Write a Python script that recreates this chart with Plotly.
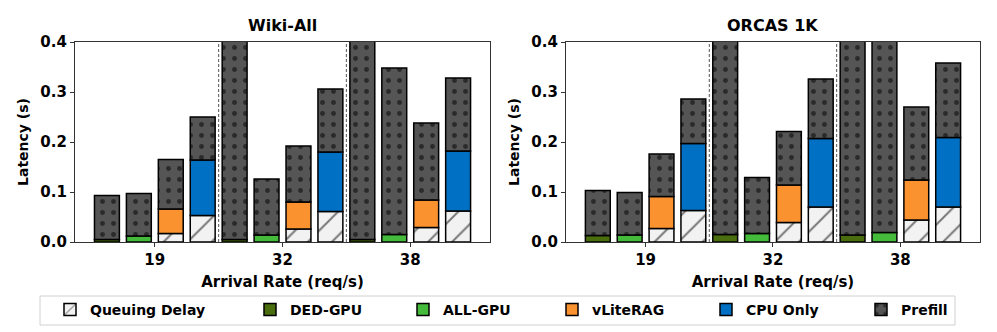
import numpy as np
import plotly.graph_objects as go
from plotly.subplots import make_subplots

rates = ["19", "32", "38"]
systems = ["DED-GPU", "ALL-GPU", "vLiteRAG", "CPU Only"]
panels = ["Wiki-All", "ORCAS 1K"]

# per system, per arrival rate: top of queuing part, top of system part, bar total
wiki_queue = [[0, 0, 0], [0, 0, 0], [0.017, 0.026, 0.029], [0.053, 0.061, 0.062]]
wiki_stage = [[0.005, 0.005, 0.005], [0.012, 0.014, 0.015], [0.066, 0.080, 0.084], [0.164, 0.180, 0.182]]
wiki_total = [[0.093, 0.62, 0.78], [0.097, 0.126, 0.348], [0.165, 0.192, 0.238], [0.250, 0.306, 0.328]]

orcas_queue = [[0, 0, 0], [0, 0, 0], [0.027, 0.039, 0.044], [0.063, 0.070, 0.070]]
orcas_stage = [[0.013, 0.015, 0.014], [0.014, 0.017, 0.019], [0.091, 0.114, 0.124], [0.197, 0.207, 0.209]]
orcas_total = [[0.103, 0.66, 0.84], [0.099, 0.129, 0.52], [0.176, 0.221, 0.270], [0.286, 0.326, 0.358]]

sys_colors = ["#4a6e0e", "#44bb3a", "#fb9230", "#0070c4"]
queue_color = "#f2f2f2"
prefill_color = "#555555"

FONT = "DejaVu Sans"
PAD = 8  # the page body adds an 8px margin around the figure
W, H = 997 - PAD, 332 - PAD
offsets = np.array([-0.375, -0.125, 0.125, 0.375])
bar_w = 0.195
edge = dict(color="black", width=1.5)

# one legend per entry so spacing can follow the original
legend_ids = {"Queuing Delay": "legend", "DED-GPU": "legend2", "ALL-GPU": "legend3",
              "vLiteRAG": "legend4", "CPU Only": "legend5", "Prefill": "legend6"}
legend_text_x = [92, 292, 445, 594, 748, 903]

fig = make_subplots(rows=1, cols=2)

data = [(wiki_queue, wiki_stage, wiki_total), (orcas_queue, orcas_stage, orcas_total)]
for p, (queue, stage, total) in enumerate(data):
    col = p + 1
    first = p == 0
    base_x = np.arange(len(rates))
    for s, name in enumerate(systems):
        xs = base_x + offsets[s]
        q = np.array(queue[s], dtype=float)
        st = np.array(stage[s], dtype=float)
        tot = np.array(total[s], dtype=float)
        if q.max() > 0:
            fig.add_trace(go.Bar(
                x=xs, y=q, base=0, width=bar_w, name="Queuing Delay",
                legend=legend_ids["Queuing Delay"],
                showlegend=first and s == 3,
                marker=dict(color=queue_color, line=edge,
                            pattern=dict(shape="/", fgcolor="black", size=17,
                                         solidity=0.12, fillmode="overlay")),
            ), row=1, col=col)
        fig.add_trace(go.Bar(
            x=xs, y=st - q, base=q, width=bar_w, name=name,
            legend=legend_ids[name], showlegend=first,
            marker=dict(color=sys_colors[s], line=edge),
        ), row=1, col=col)
        fig.add_trace(go.Bar(
            x=xs, y=tot - st, base=st, width=bar_w, name="Prefill",
            legend=legend_ids["Prefill"],
            showlegend=first and s == 0,
            marker=dict(color=prefill_color, line=edge,
                        pattern=dict(shape=".", fgcolor="black", size=11,
                                     solidity=0.16, fillmode="overlay")),
        ), row=1, col=col)

    for xv in [0.5, 1.5]:
        fig.add_shape(type="line", x0=xv, x1=xv, y0=0, y1=1,
                      xref=("x" if p == 0 else "x2"),
                      yref=("y domain" if p == 0 else "y2 domain"),
                      line=dict(color="#555", width=1, dash="3px,2px"))

axis_font = dict(family=FONT, size=15, color="black", weight="bold")
for col in [1, 2]:
    fig.update_xaxes(range=[-0.625, 2.625], tickvals=[0, 1, 2], ticktext=rates,
                     ticks="outside", ticklen=4, tickcolor="#333",
                     showline=True, mirror=True, linecolor="#333", linewidth=1.2,
                     showgrid=False, zeroline=False, tickfont=axis_font,
                     title=dict(text="Arrival Rate (req/s)", font=axis_font, standoff=8),
                     row=1, col=col)
    fig.update_yaxes(range=[0, 0.4], dtick=0.1, tickformat=".1f",
                     ticks="outside", ticklen=4, tickcolor="#333",
                     showline=True, mirror=True, linecolor="#333", linewidth=1.2,
                     showgrid=False, zeroline=False, tickfont=axis_font,
                     title=dict(text="Latency (s)",
                                font=dict(family=FONT, size=14, color="black", weight="bold"),
                                standoff=8),
                     row=1, col=col)

legend_font = dict(family=FONT, size=14, color="black", weight="bold")
legends = {}
for key, tx in zip(legend_ids.values(), legend_text_x):
    legends[key] = dict(orientation="h", xref="container", yref="container",
                        x=(tx - PAD - 42) / W, xanchor="left",
                        y=(H - (310 - PAD)) / H, yanchor="middle",
                        borderwidth=0, bgcolor="rgba(0,0,0,0)", font=legend_font)

# plot area in page pixels of the original, shifted for the body margin
pl, pr, pt, pb = 75 - PAD, 980 - PAD, 42 - PAD, 242 - PAD
fig.add_shape(type="rect", xref="paper", yref="paper",
              x0=(40 - PAD - pl) / (pr - pl), x1=(955 - PAD - pl) / (pr - pl),
              y0=(pb - (296 - PAD)) / (pb - pt), y1=(pb - (325 - PAD)) / (pb - pt),
              line=dict(color="#d0d0d0", width=1), fillcolor="white", layer="below")

fig.update_layout(
    xaxis=dict(domain=[0, 0.4586]),
    xaxis2=dict(domain=[0.5425, 1]),
    barmode="overlay",
    width=W, height=H,
    margin=dict(l=pl, r=W - pr, t=pt, b=H - pb, autoexpand=False),
    plot_bgcolor="white", paper_bgcolor="white",
    font=dict(family=FONT, color="black"),
    annotations=[
        dict(text=t, x=x, y=1.0, xref="paper", yref="paper", xanchor="center",
             yanchor="bottom", yshift=5, showarrow=False,
             font=dict(family=FONT, size=16, color="black", weight="bold"))
        for t, x in zip(panels, [0.2293, 0.7712])
    ],
    **legends,
)

fig.write_html("out.html")
